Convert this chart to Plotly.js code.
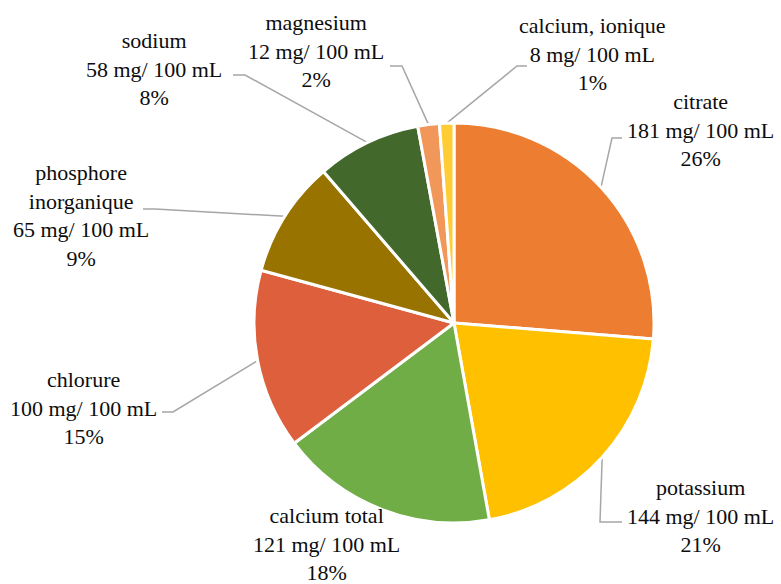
<!DOCTYPE html>
<html>
<head>
<meta charset="utf-8">
<script src="https://cdn.plot.ly/plotly-3.0.1.min.js"></script>
<style>
html,body{margin:0;padding:0;background:#fff;}
#chart{width:781px;height:584px;}
</style>
</head>
<body>
<div id="chart"></div>
<script>
// ---- data ----
const categories = ["citrate", "potassium", "calcium total", "chlorure", "phosphore<br>inorganique", "sodium", "magnesium", "calcium, ionique"];
const values = [181, 144, 121, 100, 65, 58, 12, 8];
const unitLabel = "mg/ 100 mL";
const colors = ["#ED7D31", "#FFC000", "#70AD47", "#DD5F3C", "#997300", "#43682B", "#F1975A", "#FFCD33"];

// ---- label placement (pixels): text block centre, leader start, elbow ----
const W = 781, H = 584;
const cx = 454, cy = 323, R = 200;
const labelPlace = [
  {x: 700, y: 130, lx: 622, ly: 138, ex: 612},
  {x: 700, y: 516, lx: 622, ly: 522, ex: 600},
  {x: 326, y: 544, lx: null},
  {x: 83,  y: 408, lx: 162, ly: 412, ex: 173},
  {x: 81,  y: 216, lx: 143, ly: 209, ex: 155},
  {x: 154, y: 69,  lx: 233, ly: 75,  ex: 245},
  {x: 316, y: 51,  lx: 390, ly: 66,  ex: 402},
  {x: 592, y: 54,  lx: 527, ly: 66,  ex: 517}
];

const total = values.reduce((a, b) => a + b, 0);
const px = v => v / W, py = v => 1 - v / H;
const FONT = 'Liberation Serif';

const annotations = [];
const traces = [];
let cum = 0;
values.forEach((v, i) => {
  const mid = (cum + v / 2) / total * 2 * Math.PI;
  cum += v;
  const pct = Math.round(v / total * 100);
  const p = labelPlace[i];
  annotations.push({
    xref: 'paper', yref: 'paper', x: px(p.x), y: py(p.y),
    xanchor: 'center', yanchor: 'middle', showarrow: false, align: 'center',
    text: categories[i] + '<br>' + v + ' ' + unitLabel + '<br>' + pct + '%',
    font: {family: FONT, size: 22, color: '#0d0d0d'}
  });
  if (p.lx !== null) {
    const ex = cx + R * Math.sin(mid), ey = cy - R * Math.cos(mid);
    traces.push({
      type: 'scatter', mode: 'lines', hoverinfo: 'skip', showlegend: false,
      x: [p.lx, p.ex, ex], y: [p.ly, p.ly, ey],
      line: {color: '#A6A6A6', width: 1.5}
    });
  }
});

traces.unshift({
  type: 'pie',
  labels: categories,
  values: values,
  sort: false,
  direction: 'clockwise',
  rotation: 0,
  textinfo: 'none',
  hoverinfo: 'skip',
  marker: {colors: colors, line: {color: '#FFFFFF', width: 3}},
  domain: {x: [px(cx - R), px(cx + R)], y: [py(cy + R), py(cy - R)]}
});

const layout = {
  width: W, height: H,
  margin: {l: 0, r: 0, t: 0, b: 0},
  paper_bgcolor: '#FFFFFF',
  plot_bgcolor: 'rgba(0,0,0,0)',
  showlegend: false,
  font: {family: FONT},
  xaxis: {range: [0, W], visible: false, fixedrange: true},
  yaxis: {range: [H, 0], visible: false, fixedrange: true},
  annotations: annotations
};

Plotly.newPlot('chart', traces, layout, {displayModeBar: false, staticPlot: true});
</script>
</body>
</html>
